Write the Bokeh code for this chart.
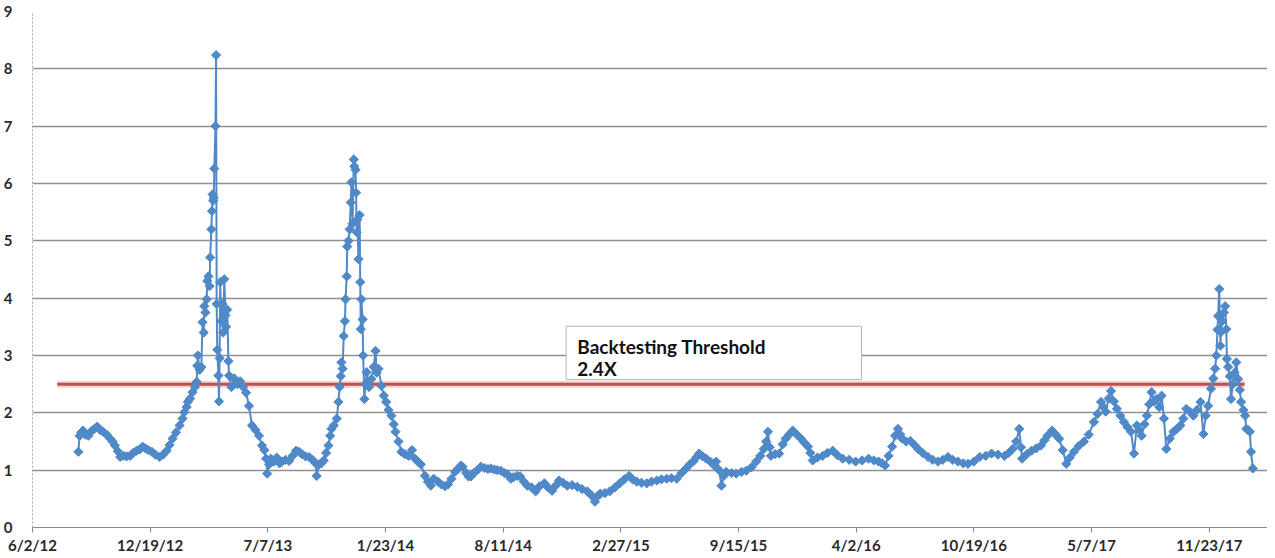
from bokeh.plotting import figure
from bokeh.models import FixedTicker, Range1d, ColumnDataSource
from bokeh.core.properties import value
from bokeh.embed import file_html
from bokeh.resources import INLINE
import math

# ---- data (x = days since 6/2/12) ----
days = [78, 80, 83, 86, 90, 95, 100, 105, 110, 115, 120, 126, 132, 136, 140, 145, 149, 155, 160, 166,
        171, 177, 182, 187, 192, 197, 203, 209, 216, 222, 228, 233, 238, 244, 250, 255, 258, 262, 264, 268,
        272, 276, 279, 280, 281, 284, 287, 289, 291, 292, 294, 296, 297, 299, 301, 302, 304, 305, 306, 307,
        308, 309, 311, 312, 313, 314, 316, 317, 318, 319, 321, 323, 324, 326, 328, 329, 331, 333, 334, 338,
        343, 348, 353, 358, 363, 368, 373, 379, 385, 390, 394, 397, 399, 402, 405, 410, 415, 420, 424, 430,
        436, 442, 448, 453, 458, 464, 470, 476, 481, 483, 487, 491, 495, 499, 503, 506, 508, 512, 517, 520,
        522, 524, 525, 527, 529, 531, 532, 534, 535, 537, 539, 541, 542, 544, 546, 547, 549, 550, 551, 552,
        554, 556, 557, 558, 559, 561, 562, 564, 566, 568, 572, 576, 580, 583, 585, 588, 593, 597, 601, 605,
        610, 614, 617, 622, 627, 633, 639, 645, 650, 655, 660, 667, 672, 677, 682, 689, 695, 701, 706, 712,
        718, 723, 728, 731, 737, 741, 745, 750, 756, 762, 768, 774, 779, 785, 790, 796, 802, 807, 813, 818,
        824, 829, 835, 841, 848, 855, 862, 870, 876, 883, 889, 895, 902, 909, 917, 926, 934, 943, 950, 956,
        961, 965, 973, 981, 990, 998, 1006, 1014, 1020, 1027, 1035, 1044, 1052, 1061, 1069, 1078, 1086, 1095, 1103, 1111,
        1117, 1123, 1128, 1133, 1139, 1145, 1152, 1159, 1162, 1167, 1171, 1175, 1179, 1188, 1196, 1205, 1213, 1222, 1230, 1237,
        1243, 1247, 1250, 1253, 1255, 1262, 1269, 1275, 1280, 1286, 1292, 1299, 1306, 1312, 1318, 1322, 1326, 1334, 1343, 1351,
        1360, 1368, 1377, 1388, 1399, 1410, 1421, 1430, 1438, 1444, 1449, 1455, 1461, 1466, 1471, 1475, 1478, 1485, 1492, 1499,
        1505, 1513, 1522, 1530, 1539, 1547, 1556, 1564, 1573, 1582, 1590, 1600, 1610, 1620, 1630, 1641, 1652, 1659, 1666, 1672,
        1677, 1680, 1682, 1690, 1698, 1706, 1714, 1720, 1725, 1733, 1739, 1745, 1751, 1757, 1763, 1770, 1778, 1787, 1795, 1804,
        1810, 1816, 1820, 1824, 1829, 1833, 1838, 1843, 1849, 1855, 1861, 1867, 1872, 1877, 1881, 1885, 1890, 1894, 1898, 1902,
        1906, 1910, 1915, 1919, 1923, 1927, 1933, 1939, 1945, 1951, 1956, 1961, 1967, 1973, 1979, 1985, 1990, 1994, 1998, 2003,
        2007, 2010, 2012, 2014, 2015, 2017, 2019, 2020, 2022, 2025, 2027, 2029, 2030, 2032, 2035, 2037, 2040, 2043, 2046, 2049,
        2052, 2054, 2058, 2061, 2063, 2066, 2069, 2071, 2074]

values = [1.32, 1.60, 1.66, 1.69, 1.62, 1.60, 1.68, 1.72, 1.76, 1.70, 1.67, 1.62, 1.55, 1.50, 1.43, 1.33, 1.23, 1.25, 1.24, 1.25,
          1.30, 1.34, 1.36, 1.41, 1.38, 1.35, 1.32, 1.27, 1.23, 1.27, 1.34, 1.44, 1.55, 1.66, 1.78, 1.90, 2.01, 2.10, 2.19, 2.25,
          2.36, 2.45, 2.54, 2.82, 3.00, 2.75, 2.80, 3.58, 3.40, 3.86, 3.75, 3.98, 4.30, 4.38, 4.21, 4.71, 5.20, 5.52, 5.81, 5.70,
          5.75, 6.26, 7.00, 8.24, 3.90, 3.10, 2.65, 2.20, 2.95, 4.28, 3.60, 3.90, 3.40, 4.33, 3.70, 3.50, 3.80, 2.90, 2.65, 2.45,
          2.60, 2.50, 2.55, 2.45, 2.35, 2.12, 1.78, 1.70, 1.60, 1.43, 1.35, 1.20, 0.94, 1.10, 1.20, 1.15, 1.22, 1.12, 1.15, 1.18,
          1.16, 1.25, 1.34, 1.32, 1.28, 1.24, 1.23, 1.18, 1.12, 0.90, 1.10, 1.12, 1.17, 1.30, 1.43, 1.60, 1.72, 1.78, 1.90, 2.19,
          2.45, 2.64, 2.88, 2.77, 3.34, 3.60, 3.98, 4.38, 4.90, 5.00, 5.20, 5.67, 6.02, 5.30, 6.42, 6.30, 6.24, 5.84, 5.15, 5.37,
          4.68, 5.45, 4.28, 3.46, 3.98, 3.63, 3.00, 2.24, 2.50, 2.71, 2.45, 2.59, 2.80, 3.08, 2.70, 2.77, 2.47, 2.30, 2.19, 2.05,
          1.95, 1.80, 1.67, 1.50, 1.32, 1.28, 1.25, 1.35, 1.20, 1.15, 1.10, 0.90, 0.80, 0.73, 0.85, 0.80, 0.75, 0.72, 0.75, 0.85,
          0.97, 1.02, 1.08, 1.06, 0.95, 0.89, 0.89, 0.95, 1.00, 1.06, 1.04, 1.02, 1.03, 1.01, 1.00, 0.99, 0.95, 0.93, 0.85, 0.88,
          0.90, 0.89, 0.80, 0.73, 0.70, 0.63, 0.72, 0.77, 0.70, 0.64, 0.73, 0.82, 0.78, 0.73, 0.74, 0.71, 0.67, 0.63, 0.56, 0.45,
          0.55, 0.59, 0.60, 0.63, 0.70, 0.77, 0.84, 0.90, 0.84, 0.80, 0.78, 0.77, 0.80, 0.82, 0.84, 0.85, 0.86, 0.85, 0.95, 1.03,
          1.10, 1.15, 1.22, 1.29, 1.24, 1.20, 1.15, 1.08, 1.15, 1.00, 0.73, 0.90, 0.97, 0.95, 0.94, 0.97, 0.99, 1.05, 1.15, 1.25,
          1.37, 1.50, 1.67, 1.40, 1.25, 1.28, 1.29, 1.45, 1.55, 1.62, 1.69, 1.62, 1.55, 1.48, 1.41, 1.30, 1.17, 1.22, 1.25, 1.30,
          1.34, 1.26, 1.20, 1.18, 1.15, 1.17, 1.20, 1.17, 1.15, 1.12, 1.08, 1.25, 1.41, 1.60, 1.72, 1.62, 1.55, 1.50, 1.51, 1.44,
          1.37, 1.30, 1.23, 1.18, 1.15, 1.18, 1.23, 1.18, 1.15, 1.12, 1.11, 1.15, 1.23, 1.25, 1.29, 1.27, 1.25, 1.30, 1.37, 1.50,
          1.72, 1.40, 1.20, 1.28, 1.34, 1.38, 1.43, 1.52, 1.60, 1.69, 1.62, 1.55, 1.35, 1.11, 1.22, 1.32, 1.42, 1.50, 1.62, 1.84,
          1.98, 2.19, 2.10, 2.02, 2.25, 2.38, 2.20, 2.07, 1.95, 1.84, 1.75, 1.67, 1.29, 1.78, 1.70, 1.60, 1.80, 1.95, 2.15, 2.36,
          2.20, 2.24, 2.10, 2.30, 1.90, 1.37, 1.55, 1.67, 1.72, 1.78, 1.90, 2.07, 2.02, 1.95, 2.05, 2.19, 1.63, 1.95, 2.12, 2.42,
          2.60, 2.77, 3.00, 3.45, 3.69, 4.16, 3.17, 3.41, 3.60, 3.75, 3.86, 3.46, 2.94, 2.80, 2.64, 2.24, 2.50, 2.70, 2.88, 2.59,
          2.40, 2.19, 2.05, 1.95, 1.72, 1.70, 1.67, 1.32, 1.03]

tick_days = [0, 200, 400, 600, 800, 1000, 1200, 1400, 1600, 1800, 2000]
tick_labels = ["6/2/12", "12/19/12", "7/7/13", "1/23/14", "8/11/14", "2/27/15",
               "9/15/15", "4/2/16", "10/19/16", "5/7/17", "11/23/17"]

threshold_value = 2.5
threshold_start_day = 42
threshold_end_day = 2060
label_line1 = "Backtesting Threshold"
label_line2 = "2.4X"

FONT = "Lato"
BLUE = "#4F89C8"

p = figure(width=1267, height=556, output_backend="svg", toolbar_location=None,
           x_range=Range1d(0, 2099), y_range=Range1d(0, 9),
           min_border_left=24, min_border_right=0, min_border_top=11, min_border_bottom=28)
p.outline_line_color = None
p.background_fill_color = "white"

# grid
p.xgrid.grid_line_color = None
p.ygrid.grid_line_color = "#919191"
p.ygrid.grid_line_width = 1.4
p.yaxis.ticker = FixedTicker(ticks=list(range(0, 10)))
p.xaxis.ticker = FixedTicker(ticks=tick_days)
p.xaxis.major_label_overrides = {d: l for d, l in zip(tick_days, tick_labels)}

for ax in (p.xaxis, p.yaxis):
    ax.major_label_text_font = FONT
    ax.major_label_text_font_style = "bold"
    ax.major_label_text_font_size = "15px"
    ax.major_label_text_color = "#2a2a2a"
    ax.minor_tick_line_color = None

p.xaxis.axis_line_color = "#8a8a8a"
p.xaxis.axis_line_width = 1.2
p.xaxis.major_tick_line_color = "#8a8a8a"
p.xaxis.major_tick_out = 5
p.xaxis.major_tick_in = 0
p.xaxis.major_label_standoff = 3

p.yaxis.axis_line_color = "#a5a5a5"
p.yaxis.axis_line_dash = "2 2"
p.yaxis.major_tick_line_color = None
p.yaxis.major_label_standoff = 14

# label box
p.quad(left=[907], right=[1409], bottom=[2.58], top=[3.51],
       fill_color="white", line_color="#b5b5b5", line_width=1)

# threshold line with soft glow
p.line([threshold_start_day, threshold_end_day], [threshold_value, threshold_value],
       line_color="#E8B4B2", line_width=7, line_alpha=0.55)
p.line([threshold_start_day, threshold_end_day], [threshold_value, threshold_value],
       line_color="#C0504D", line_width=3)

# series
src = ColumnDataSource(dict(x=days, y=values))
p.line("x", "y", source=src, line_color=BLUE, line_width=2)
p.scatter("x", "y", source=src, marker="square", angle=math.pi / 4, size=6.5,
          fill_color=BLUE, line_color=BLUE, line_width=1)

p.text(x=[926, 926], y=[3.15, 2.77], text=[label_line1, label_line2],
       text_font=value(FONT), text_font_style="bold", text_font_size="19px",
       text_color="#111111", text_baseline="middle", text_align="left")

open("out.html", "w").write(file_html(p, INLINE))
